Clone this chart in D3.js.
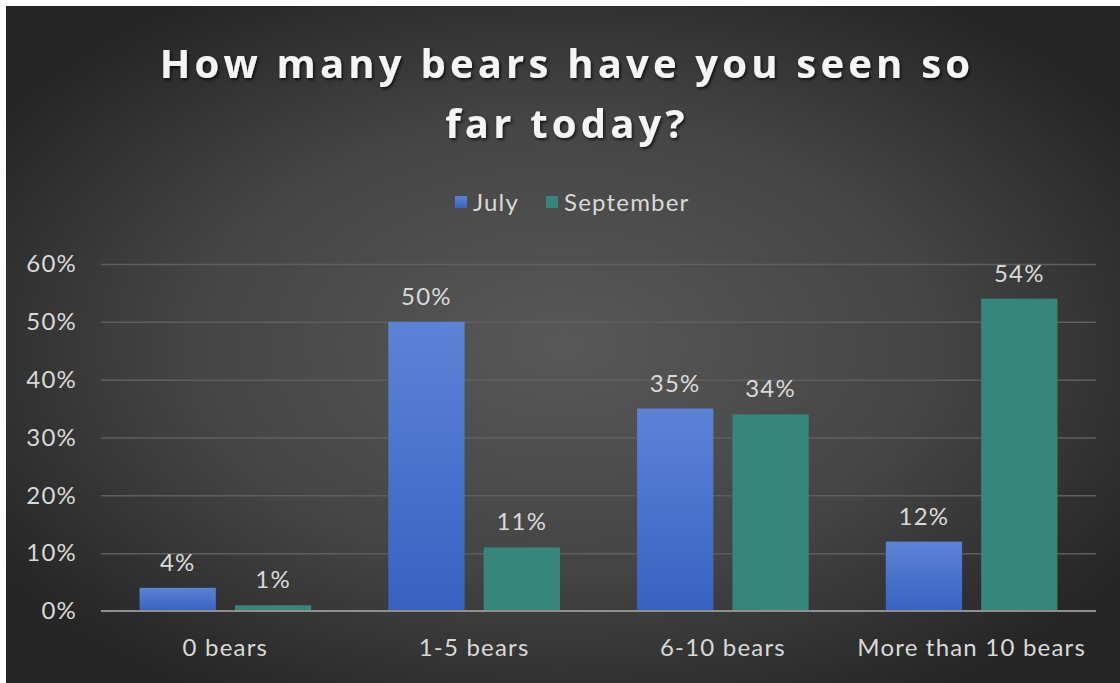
<!DOCTYPE html>
<html>
<head>
<meta charset="utf-8">
<script src="https://cdn.jsdelivr.net/npm/d3@7/dist/d3.min.js"></script>
<style>
  html, body { margin: 0; padding: 0; background: #ffffff; }
  svg { display: block; }
</style>
</head>
<body>
<svg id="chart" width="1120" height="683"></svg>
<script>
// Survey answers: share of visitors by number of bears seen
const categories = ["0 bears", "1-5 bears", "6-10 bears", "More than 10 bears"];
const seriesNames = ["July", "September"];
const july = [4, 50, 35, 12];
const september = [1, 11, 34, 54];
const yTicks = [0, 10, 20, 30, 40, 50, 60];
const titleLines = ["How many bears have you seen so", "far today?"];

const W = 1120, H = 683;
const svg = d3.select("#chart");
const defs = svg.append("defs");

// dark panel with a soft light centre
const bg = defs.append("radialGradient").attr("id", "bg")
  .attr("cx", "50%").attr("cy", "50%").attr("r", "60%");
bg.append("stop").attr("offset", "0%").attr("stop-color", "#585858");
bg.append("stop").attr("offset", "55%").attr("stop-color", "#454545");
bg.append("stop").attr("offset", "100%").attr("stop-color", "#262626");

const blue = defs.append("linearGradient").attr("id", "blueFill")
  .attr("x1", 0).attr("y1", 0).attr("x2", 0).attr("y2", 1);
blue.append("stop").attr("offset", "0%").attr("stop-color", "#5c83d6");
blue.append("stop").attr("offset", "100%").attr("stop-color", "#3862c2");

const shadow = defs.append("filter").attr("id", "tshadow")
  .attr("x", "-5%").attr("y", "-20%").attr("width", "110%").attr("height", "150%");
shadow.append("feDropShadow").attr("dx", 1.5).attr("dy", 2).attr("stdDeviation", 1.5)
  .attr("flood-color", "#000").attr("flood-opacity", 0.7);

svg.append("rect").attr("x", 6).attr("y", 6).attr("width", W - 6).attr("height", H - 6)
  .attr("fill", "url(#bg)");

const plot = { left: 101, right: 1096, top: 264, bottom: 611 };

const x0 = d3.scaleBand().domain(categories).range([plot.left, plot.right]).paddingInner(0.31).paddingOuter(0.155);
const x1 = d3.scaleBand().domain(seriesNames).range([0, x0.bandwidth()]).paddingInner(0.2);
const y = d3.scaleLinear().domain([0, 60]).range([plot.bottom, plot.top]);

const textColor = "#d9d9d9";
const labelFont = "Lato, 'Open Sans', sans-serif";
const labelSize = 24;
const labelSpacing = 1.2;

// gridlines
const grid = svg.append("g").attr("transform", `translate(${plot.left},0)`)
  .call(d3.axisLeft(y).tickValues(yTicks.slice(1)).tickSize(-(plot.right - plot.left)).tickFormat(""));
grid.select(".domain").remove();
grid.selectAll("line").attr("stroke", "#5f5f5f").attr("stroke-width", 1.5);

// y axis labels
const yAxis = svg.append("g").attr("transform", `translate(${plot.left},0)`)
  .call(d3.axisLeft(y).tickValues(yTicks).tickSize(0).tickPadding(24).tickFormat(d => d + "%"));
yAxis.select(".domain").remove();
yAxis.selectAll("text").attr("fill", textColor).attr("font-family", labelFont)
  .attr("font-size", labelSize).attr("letter-spacing", labelSpacing);

// bars
const rows = categories.map((c, i) => ({ cat: c, vals: [
  { s: "July", v: july[i] }, { s: "September", v: september[i] }] }));
const colorOf = { July: "url(#blueFill)", September: "#34877a" };

const groups = svg.append("g").selectAll("g").data(rows).join("g")
  .attr("transform", d => `translate(${x0(d.cat)},0)`);
groups.selectAll("rect").data(d => d.vals).join("rect")
  .attr("x", d => x1(d.s)).attr("width", x1.bandwidth())
  .attr("y", d => y(d.v)).attr("height", d => y(0) - y(d.v))
  .attr("fill", d => colorOf[d.s]);
groups.selectAll("text").data(d => d.vals).join("text")
  .attr("x", d => x1(d.s) + x1.bandwidth() / 2).attr("y", d => y(d.v) - 17)
  .attr("text-anchor", "middle").attr("fill", textColor)
  .attr("font-family", labelFont).attr("font-size", labelSize).attr("letter-spacing", labelSpacing)
  .text(d => d.v + "%");

// category axis
const xAxis = svg.append("g").attr("transform", `translate(0,${plot.bottom})`)
  .call(d3.axisBottom(x0).tickSize(0).tickPadding(28));
xAxis.select(".domain").attr("stroke", "#8f8f8f").attr("stroke-width", 2)
  .attr("d", `M${plot.left},0H${plot.right}`);
xAxis.selectAll("text").attr("fill", textColor).attr("font-family", labelFont)
  .attr("font-size", labelSize).attr("letter-spacing", labelSpacing);

// title
const title = svg.append("text").attr("text-anchor", "middle")
  .attr("font-family", "'Open Sans', sans-serif").attr("font-weight", 700)
  .attr("font-size", 40).attr("letter-spacing", 4.2).attr("fill", "#f4f4f4")
  .attr("filter", "url(#tshadow)");
titleLines.forEach((t, i) => title.append("tspan").attr("x", 567).attr("y", 78 + i * 60).text(t));

// legend
const legend = svg.append("g").attr("font-family", labelFont).attr("font-size", labelSize)
  .attr("letter-spacing", labelSpacing).attr("fill", textColor);
const legendItems = [{ s: "July", x: 455 }, { s: "September", x: 546 }];
legendItems.forEach(it => {
  legend.append("rect").attr("x", it.x).attr("y", 196).attr("width", 12).attr("height", 12)
    .attr("fill", colorOf[it.s]);
  legend.append("text").attr("x", it.x + 18).attr("y", 211).text(it.s);
});
</script>
</body>
</html>
